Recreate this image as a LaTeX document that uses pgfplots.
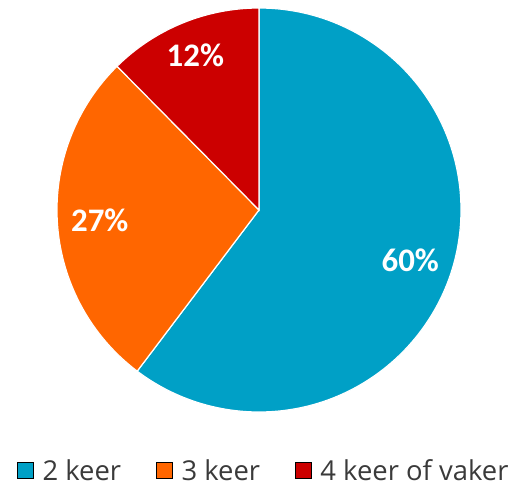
\documentclass[border=0pt]{standalone}
\usepackage{pgfplots}
\pgfplotsset{compat=1.18}
\usepackage{pgfplotstable}
\usepackage{fontspec}
\setmainfont{Open Sans}
\newfontfamily\labelfont{Carlito}
\definecolor{c1}{HTML}{00A0C6}
\definecolor{c2}{HTML}{FF6600}
\definecolor{c3}{HTML}{CC0000}
\definecolor{legtext}{HTML}{3A3A3A}

\pgfplotstableread{
name value pct
a 60.3 60
b 27.3 27
c 12.4 12
}\piedata

\pgfplotstablegetelem{0}{value}\of\piedata \let\vA\pgfplotsretval
\pgfplotstablegetelem{1}{value}\of\piedata \let\vB\pgfplotsretval
\pgfplotstablegetelem{2}{value}\of\piedata \let\vC\pgfplotsretval
\pgfplotstablegetelem{0}{pct}\of\piedata \let\pA\pgfplotsretval
\pgfplotstablegetelem{1}{pct}\of\piedata \let\pB\pgfplotsretval
\pgfplotstablegetelem{2}{pct}\of\piedata \let\pC\pgfplotsretval

\pgfmathsetmacro{\tot}{\vA+\vB+\vC}
\pgfmathsetmacro{\aO}{90}
\pgfmathsetmacro{\aA}{90-360*(\vA/\tot)}
\pgfmathsetmacro{\aB}{\aA-360*(\vB/\tot)}
\pgfmathsetmacro{\aC}{\aB-360*(\vC/\tot)}
\pgfmathsetmacro{\mA}{(\aO+\aA)/2}
\pgfmathsetmacro{\mB}{(\aA+\aB)/2}
\pgfmathsetmacro{\mC}{(\aB+\aC)/2}

\begin{document}
\begin{tikzpicture}
\useasboundingbox (-259bp,-273bp) rectangle (256bp,210bp);
\begin{axis}[
  anchor=origin,
  x=202bp, y=202bp,
  xmin=-1.282, xmax=1.267, ymin=-1.351, ymax=1.04,
  hide axis, clip=false,
  legend columns=3,
  legend style={draw=none, fill=none, inner sep=0pt,
    at={(axis cs:-1.198,-1.29)}, anchor=west,
    font=\fontsize{27.5}{30}\selectfont, text=legtext,
    nodes={inner sep=0pt},
    /tikz/every odd column/.style={column sep=9bp},
    /tikz/every even column/.style={column sep=35bp},
    /tikz/column 6/.style={column sep=0pt}},
  legend image code/.code={\fill[#1] (0bp,-8bp) rectangle (16bp,8bp);},
]
\addlegendimage{fill=c1}
\addlegendentry{2 keer}
\addlegendimage{fill=c2}
\addlegendentry{3 keer}
\addlegendimage{fill=c3}
\addlegendentry{4 keer of vaker}

\filldraw[fill=c1, draw=white, line width=1.2bp] (axis cs:0,0) -- (axis cs:{cos(\aO)},{sin(\aO)}) arc[start angle=\aO, end angle=\aA, radius=202bp] -- cycle;
\filldraw[fill=c2, draw=white, line width=1.2bp] (axis cs:0,0) -- (axis cs:{cos(\aA)},{sin(\aA)}) arc[start angle=\aA, end angle=\aB, radius=202bp] -- cycle;
\filldraw[fill=c3, draw=white, line width=1.2bp] (axis cs:0,0) -- (axis cs:{cos(\aB)},{sin(\aB)}) arc[start angle=\aB, end angle=\aC, radius=202bp] -- cycle;

\node[font=\labelfont\bfseries\fontsize{33}{34}\selectfont, text=white] at (axis cs:{0.79*cos(\mA)},{0.79*sin(\mA)}) {\pA\%};
\node[font=\labelfont\bfseries\fontsize{33}{34}\selectfont, text=white] at (axis cs:{0.79*cos(\mB)},{0.79*sin(\mB)}) {\pB\%};
\node[font=\labelfont\bfseries\fontsize{33}{34}\selectfont, text=white] at (axis cs:{0.83*cos(\mC)},{0.83*sin(\mC)}) {\pC\%};
\end{axis}
\end{tikzpicture}
\end{document}
